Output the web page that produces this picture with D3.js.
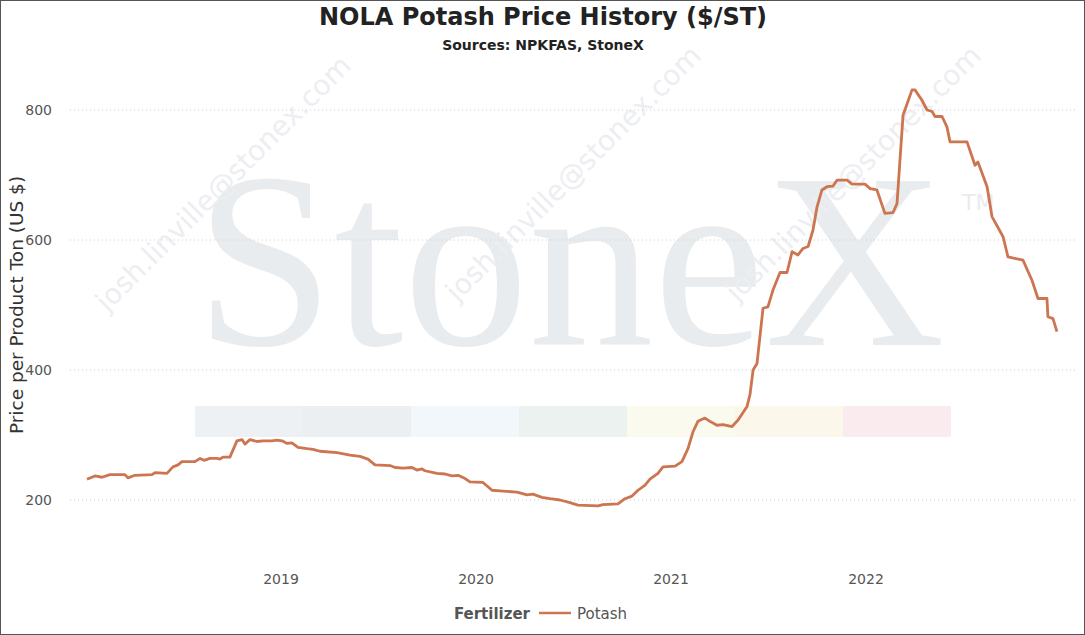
<!DOCTYPE html>
<html><head><meta charset="utf-8">
<script src="https://cdn.jsdelivr.net/npm/d3@7"></script>
<style>body{margin:0;background:#fff;font-family:"DejaVu Sans",sans-serif}</style>
</head><body><div id="chart"></div>
<script>
var width = 1085, height = 635;

// decimal year, $/ST
var years = [2018.005,2018.046,2018.082,2018.123,2018.2,2018.215,2018.251,2018.338,2018.354,2018.415,2018.446,2018.472,2018.492,2018.559,2018.585,2018.605,2018.636,2018.672,2018.687,2018.703,2018.738,2018.774,2018.8,2018.815,2018.841,2018.877,2018.908,2018.954,2018.979,
    2019.005,2019.031,2019.056,2019.087,2019.133,2019.164,2019.2,2019.287,2019.354,2019.405,2019.446,2019.482,2019.559,2019.585,2019.626,2019.672,2019.697,2019.723,2019.738,2019.8,2019.841,2019.877,2019.908,2019.944,2019.969,
    2020.036,2020.082,2020.123,2020.21,2020.262,2020.292,2020.338,2020.379,2020.431,2020.482,2020.523,2020.626,2020.651,2020.728,2020.764,2020.8,2020.831,2020.867,2020.892,2020.933,2020.959,
    2021.021,2021.056,2021.087,2021.113,2021.138,2021.174,2021.2,2021.236,2021.267,2021.313,2021.344,2021.39,2021.405,2021.421,2021.441,2021.472,2021.497,2021.523,2021.559,2021.595,2021.621,2021.651,2021.677,2021.703,2021.728,2021.749,2021.774,2021.8,2021.831,2021.851,2021.903,2021.928,2021.995,
    2022.021,2022.056,2022.097,2022.138,2022.159,2022.19,2022.236,2022.251,2022.287,2022.313,2022.338,2022.354,2022.39,2022.415,2022.431,2022.518,2022.559,2022.574,2022.621,2022.646,2022.703,2022.728,2022.805,2022.851,2022.882,2022.928,2022.933,2022.959,2022.979];
var potash = [232,237,235,239,239,234,238,239,242,241,251,254,259,259,264,261,264,264,263,266,266,291,293,286,293,290,291,291,292,
    291,287,288,281,279,278,275,273,269,267,263,254,253,250,249,250,246,248,245,241,240,237,238,233,228,
    227,215,214,212,208,209,204,202,200,196,192,191,193,194,202,206,215,223,232,241,251,
    252,259,279,305,321,326,321,315,316,313,323,344,362,400,410,495,497,523,550,550,582,577,587,590,615,651,677,682,683,692,692,686,686,
    679,677,641,642,656,792,831,831,815,800,798,790,790,774,751,751,715,720,682,636,605,574,569,538,510,510,482,479,459];
var xTicks = [2019, 2020, 2021, 2022];
var yTicks = [200, 400, 600, 800];
var bandColors = ["#e3e8ec","#dde5ea","#e8f1f6","#dfe9e4","#f8f6e3","#f9f1dd","#f6e0e3"];

var svg = d3.select("#chart").append("svg").attr("width", width).attr("height", height);
svg.append("rect").attr("x",0.5).attr("y",0.5).attr("width",width-1).attr("height",height-1)
    .attr("fill","#fff").attr("stroke","#555");

var x = d3.scaleLinear().domain([2018, 2023]).range([86, 1061]);
var y = d3.scaleLinear().domain([100, 900]).range([565, 45]);

// watermark
svg.append("text").attr("x", 570).attr("y", 345).attr("text-anchor","middle")
    .attr("font-family","Liberation Serif, serif").attr("font-size", 250).attr("fill","#e9ecef").text("StoneX");
svg.append("text").attr("x", 962).attr("y", 210).attr("font-size", 22).attr("fill","#e9ecef").text("TM");
svg.selectAll(".band").data(bandColors).enter().append("rect")
    .attr("x", function (d, i) { return 195 + i * 108; }).attr("y", 406)
    .attr("width", 108).attr("height", 31).attr("fill", function (d) { return d; }).attr("opacity", 0.6);
[[230, 190], [580, 180], [860, 180]].forEach(function (p) {
    svg.append("text").attr("transform", "translate(" + p[0] + "," + p[1] + ") rotate(-45)")
        .attr("text-anchor","middle").attr("font-size", 28).attr("fill","#eceef1").text("josh.linville@stonex.com");
});

svg.selectAll(".grid").data(yTicks).enter().append("line")
    .attr("x1", 70).attr("x2", 1075).attr("y1", y).attr("y2", y)
    .attr("stroke","#ccc").attr("stroke-dasharray","1,3");
svg.selectAll(".ylab").data(yTicks).enter().append("text")
    .attr("x", 52).attr("y", function (d) { return y(d) + 5; }).attr("text-anchor","end")
    .attr("font-size", 14).attr("fill","#555").text(function (d) { return d; });
svg.selectAll(".xlab").data(xTicks).enter().append("text")
    .attr("x", x).attr("y", 584).attr("text-anchor","middle")
    .attr("font-size", 14).attr("fill","#555").text(function (d) { return d; });

var line = d3.line().x(function (d) { return x(d[0]); }).y(function (d) { return y(d[1]); });
svg.append("path").datum(d3.zip(years, potash)).attr("d", line)
    .attr("fill","none").attr("stroke","#cc7550").attr("stroke-width", 2.8).attr("stroke-linejoin","round");

svg.append("text").attr("x", 543).attr("y", 25).attr("text-anchor","middle")
    .attr("font-size", 24).attr("font-weight","bold").attr("fill","#222").text("NOLA Potash Price History ($/ST)");
svg.append("text").attr("x", 543).attr("y", 50).attr("text-anchor","middle")
    .attr("font-size", 14).attr("font-weight","bold").attr("fill","#222").text("Sources: NPKFAS, StoneX");
svg.append("text").attr("transform","translate(23,305) rotate(-90)").attr("text-anchor","middle")
    .attr("font-size", 18.5).attr("fill","#333").text("Price per Product Ton (US $)");

svg.append("text").attr("x", 530).attr("y", 619).attr("text-anchor","end")
    .attr("font-size", 15).attr("font-weight","bold").attr("fill","#555").text("Fertilizer");
svg.append("line").attr("x1", 539).attr("x2", 571).attr("y1", 613).attr("y2", 613)
    .attr("stroke","#cc7550").attr("stroke-width", 2.5);
svg.append("text").attr("x", 577).attr("y", 619).attr("font-size", 15).attr("fill","#555").text("Potash");
</script></body></html>
